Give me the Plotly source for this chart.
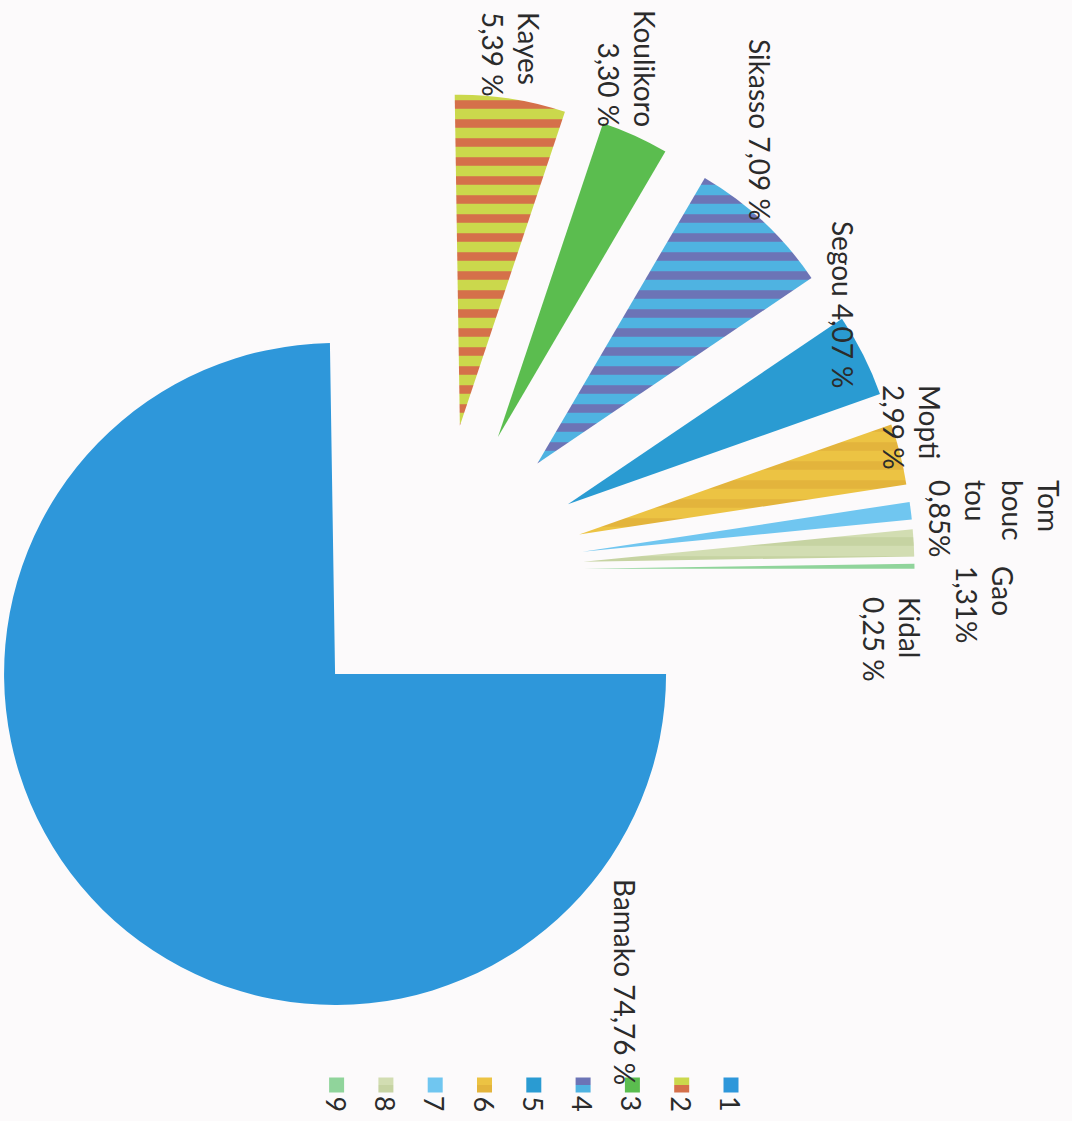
import numpy as np
import plotly.graph_objects as go

# Regional shares (%)
regions = ["Bamako", "Kayes", "Koulikoro", "Sikasso", "Segou",
           "Mopti", "Tombouctou", "Gao", "Kidal"]
shares = [74.76, 5.39, 3.30, 7.09, 4.07, 2.99, 0.85, 1.31, 0.25]
legend_keys = ["1", "2", "3", "4", "5", "6", "7", "8", "9"]
slice_labels = ["Bamako 74,76 %", "Kayes<br>5,39 %", "Koulikoro<br>3,30 %",
                "Sikasso 7,09 %", "Segou 4,07 %", "Mopti<br>2,99 %",
                "Tom<br>bouc<br>tou<br>0,85%", "Gao<br>1,31%", "Kidal<br>0,25 %"]

# Slice styling: base colour, stripe colour and stripe shape
base_colors = ["#2E97DA", "#CBD84C", "#5BBD4F", "#4FB3E1", "#2A9BD2",
               "#ECC343", "#70C6F0", "#D2DDB2", "#90D49B"]
stripe_colors = ["#2E97DA", "#D5704A", "#5BBD4F", "#6C74B6", "#2A9BD2",
                 "#E3B43C", "#70C6F0", "#C6D3A2", "#90D49B"]
stripe_shapes = ["", "-", "", "-", "", "-", "", "-", ""]

W, H = 1072, 1121
CENTER = (437.5, 570.0)   # pie centre in px
RADIUS = 331.0            # px
EXPLODE = 146.0           # px every slice is pushed out along its mid-angle
START = 90.0              # first slice starts at 3 o'clock, clockwise
FONT = "Lato"
TEXT_COLOR = "#2B2B2B"
CLEAR = "rgba(0,0,0,0)"

vals = np.array(shares, dtype=float)
frac_before = np.concatenate([[0.0], np.cumsum(vals)[:-1]]) / vals.sum()
mid_deg = START + 360.0 * (frac_before + vals / vals.sum() / 2.0)

fig = go.Figure()

# one pie per slice so that each slice can be offset independently
for k in range(len(regions)):
    ang = np.deg2rad(mid_deg[k])
    cx = CENTER[0] + EXPLODE * np.sin(ang)
    cy = CENTER[1] - EXPLODE * np.cos(ang)
    colors = [base_colors[i] if i == k else CLEAR for i in range(len(regions))]
    fg = [stripe_colors[i] if i == k else CLEAR for i in range(len(regions))]
    shapes = [stripe_shapes[i] if i == k else "" for i in range(len(regions))]
    fig.add_trace(go.Pie(
        labels=regions,
        values=shares,
        sort=False,
        direction="clockwise",
        rotation=START,
        textinfo="none",
        hoverinfo="label+percent",
        showlegend=False,
        marker=dict(
            colors=colors,
            line=dict(width=0),
            pattern=dict(shape=shapes, fgcolor=fg, bgcolor=colors,
                         size=19, solidity=0.45),
        ),
        domain=dict(x=[(cx - RADIUS) / W, (cx + RADIUS) / W],
                    y=[1 - (cy + RADIUS) / H, 1 - (cy - RADIUS) / H]),
    ))

# data labels (rotated text): centre x, centre y in px, alignment
label_pos = [(625, 982, "left"), (511, 54, "left"), (627, 68, "right"),
             (760, 130, "left"), (843, 305, "left"), (912, 427, "left"),
             (995, 519, "left"), (985, 605, "left"), (892, 639, "left")]
annotations = []
for text, (x, y, al) in zip(slice_labels, label_pos):
    annotations.append(dict(
        text=text, x=x / W, y=1 - y / H, xref="paper", yref="paper",
        xanchor="center", yanchor="middle", textangle=90, align=al,
        showarrow=False, font=dict(family=FONT, size=28, color=TEXT_COLOR),
    ))

# legend: swatches with rotated keys, laid out right to left
LEG_X0, LEG_STEP, SW_Y, SW, KEY_Y = 731.0, 49.3, 1085.0, 15.0, 1104.0
shapes_list = []
for i, key in enumerate(legend_keys):
    lx = LEG_X0 - i * LEG_STEP
    x0, x1 = (lx - SW / 2) / W, (lx + SW / 2) / W
    y_top, y_mid, y_bot = 1 - (SW_Y - SW / 2) / H, 1 - SW_Y / H, 1 - (SW_Y + SW / 2) / H
    if stripe_shapes[i]:
        top_c, bot_c = (base_colors[i], stripe_colors[i]) if i != 3 else (stripe_colors[i], base_colors[i])
        shapes_list.append(dict(type="rect", xref="paper", yref="paper", x0=x0, x1=x1,
                                y0=y_mid, y1=y_top, fillcolor=top_c, line_width=0))
        shapes_list.append(dict(type="rect", xref="paper", yref="paper", x0=x0, x1=x1,
                                y0=y_bot, y1=y_mid, fillcolor=bot_c, line_width=0))
    else:
        shapes_list.append(dict(type="rect", xref="paper", yref="paper", x0=x0, x1=x1,
                                y0=y_bot, y1=y_top, fillcolor=base_colors[i], line_width=0))
    annotations.append(dict(
        text=key, x=lx / W, y=1 - KEY_Y / H, xref="paper", yref="paper",
        xanchor="center", yanchor="middle", textangle=90, showarrow=False,
        font=dict(family=FONT, size=27, color=TEXT_COLOR),
    ))

fig.update_layout(
    width=W, height=H, autosize=False,
    margin=dict(l=0, r=0, t=0, b=0),
    paper_bgcolor="#FCFAFB", plot_bgcolor="#FCFAFB",
    showlegend=False,
    annotations=annotations,
    shapes=shapes_list,
)

fig.write_html("out.html")
